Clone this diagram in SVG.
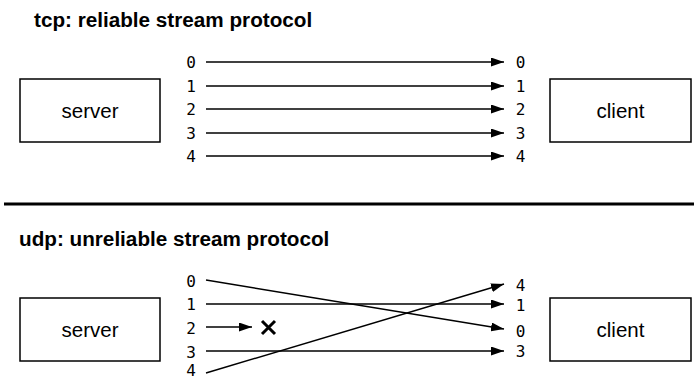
<svg xmlns="http://www.w3.org/2000/svg" width="694" height="380" viewBox="0 0 694 380">
<style>
.title{font-family:"Liberation Sans",Arial,sans-serif;font-size:20.7px;font-weight:bold;fill:#000}
.box{fill:#fff;stroke:#000;stroke-width:1.5}
.lbl{font-family:"Liberation Sans",Arial,sans-serif;font-size:20.5px;fill:#000;text-anchor:middle}
.num{font-family:"DejaVu Sans Mono",monospace;font-size:16px;fill:#000;text-anchor:middle}
.ln{stroke:#000;stroke-width:1.5;fill:none}
</style>
<defs>
<marker id="ah" viewBox="0 0 13 9" refX="13" refY="4.5" markerWidth="13" markerHeight="9" markerUnits="userSpaceOnUse" orient="auto">
<path d="M0,0 L13,4.5 L0,9 Z" fill="#000"/>
</marker>
</defs>
<rect width="694" height="380" fill="#fff"/>
<text class="title" x="34" y="27">tcp: reliable stream protocol</text>
<line x1="4" y1="204" x2="694" y2="204" stroke="#000" stroke-width="3"/>
<text class="title" x="19" y="246">udp: unreliable stream protocol</text>

<g id="tcp-server"><rect class="box" x="20" y="79" width="140" height="63"/><text class="lbl" x="90" y="118">server</text></g>
<g id="tcp-client"><rect class="box" x="550" y="79" width="141" height="63"/><text class="lbl" x="620.5" y="118">client</text></g>
<g id="udp-server"><rect class="box" x="20" y="298" width="140" height="63"/><text class="lbl" x="90" y="337">server</text></g>
<g id="udp-client"><rect class="box" x="550" y="298" width="141" height="63"/><text class="lbl" x="620.5" y="337">client</text></g>

<g id="labels">
<text class="num" x="191" y="68">0</text>
<text class="num" x="191" y="92">1</text>
<text class="num" x="191" y="115">2</text>
<text class="num" x="191" y="139">3</text>
<text class="num" x="191" y="162">4</text>
<text class="num" x="520.5" y="68">0</text>
<text class="num" x="520.5" y="92">1</text>
<text class="num" x="520.5" y="115">2</text>
<text class="num" x="520.5" y="139">3</text>
<text class="num" x="520.5" y="162">4</text>
<text class="num" x="191" y="287">0</text>
<text class="num" x="191" y="310">1</text>
<text class="num" x="191" y="334">2</text>
<text class="num" x="191" y="358">3</text>
<text class="num" x="191" y="376">4</text>
<text class="num" x="520.5" y="291">4</text>
<text class="num" x="520.5" y="311">1</text>
<text class="num" x="520.5" y="337">0</text>
<text class="num" x="520.5" y="357">3</text>
</g>

<g id="connectors">
<line class="ln" x1="206" y1="62" x2="504" y2="62" marker-end="url(#ah)"/>
<line class="ln" x1="206" y1="86" x2="504" y2="86" marker-end="url(#ah)"/>
<line class="ln" x1="206" y1="109" x2="504" y2="109" marker-end="url(#ah)"/>
<line class="ln" x1="206" y1="133" x2="504" y2="133" marker-end="url(#ah)"/>
<line class="ln" x1="206" y1="156" x2="504" y2="156" marker-end="url(#ah)"/>
<line class="ln" x1="206" y1="280" x2="504" y2="329" marker-end="url(#ah)"/>
<line class="ln" x1="206" y1="304" x2="504" y2="304" marker-end="url(#ah)"/>
<line class="ln" x1="206" y1="327" x2="252" y2="327" marker-end="url(#ah)"/>
<line class="ln" x1="206" y1="351" x2="504" y2="351" marker-end="url(#ah)"/>
<line class="ln" x1="206" y1="373" x2="504" y2="284" marker-end="url(#ah)"/>
<path d="M262,321 L275,334 M275,321 L262,334" stroke="#000" stroke-width="3" fill="none"/>
</g>
</svg>
